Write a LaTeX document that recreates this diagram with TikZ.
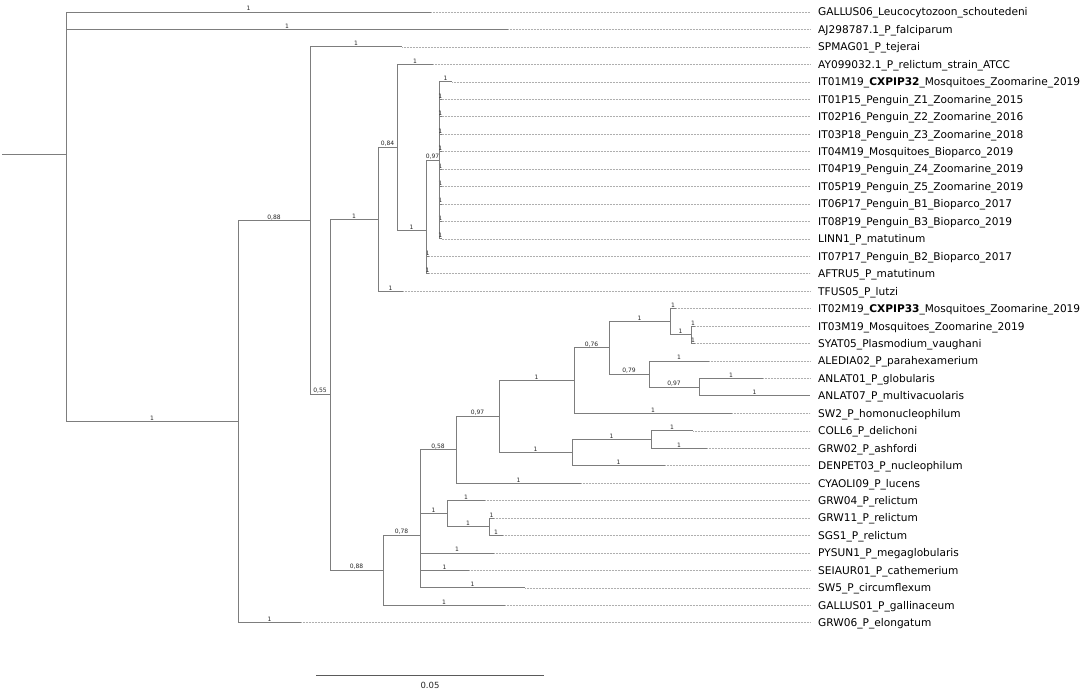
\documentclass[tikz,border=0pt]{standalone}
\usepackage{fontspec}
\setmainfont{DejaVu Sans}
\definecolor{brc}{RGB}{125,125,125}
\definecolor{dotc}{RGB}{175,175,175}
\definecolor{sbc}{RGB}{90,90,90}
\begin{document}
\begin{tikzpicture}[x=1pt,y=-1pt,
 br/.style={draw=brc,line width=0.9pt},
 dots/.style={draw=dotc,line width=0.6pt,dash pattern=on 0.6pt off 0.9pt},
 sup/.style={font=\fontsize{6}{7}\selectfont,inner sep=0.6pt,above,text=black!85,pos=0.75},
 leaf/.style={font=\fontsize{10.6}{12.5}\selectfont,anchor=base west,inner sep=0pt,yshift=-3.9pt},
 scalebar/.style={draw=sbc,line width=1.3pt}]
\useasboundingbox (0,0) rectangle (1084,693);
% internal nodes
\coordinate (stub) at (2,154.4);
\coordinate (nR) at (66,154.4);
\coordinate (nA) at (238,421.8);
\coordinate (nB) at (310,220.8);
\coordinate (nC) at (330,394.7);
\coordinate (nD) at (378,219.2);
\coordinate (nF) at (397,147.2);
\coordinate (nG) at (426,230.1);
\coordinate (nH) at (439,160.3);
\coordinate (nE) at (383,570.1);
\coordinate (nI) at (420,535);
\coordinate (nJ) at (456,449.9);
\coordinate (nK) at (447,513.7);
\coordinate (nL) at (489,526.8);
\coordinate (nM) at (499,416.6);
\coordinate (nN) at (574,380.6);
\coordinate (nO) at (572,452.6);
\coordinate (nP) at (609,347.9);
\coordinate (nQ) at (670,321.7);
\coordinate (nS) at (691,334.8);
\coordinate (nT) at (649,374.1);
\coordinate (nU) at (699,387.2);
\coordinate (nV) at (651,439.5);
\coordinate (dotend) at (810,0);
% leaves
\foreach \i/\xe/\txt in {
 0/431/GALLUS06\_Leucocytozoon\_schoutedeni,
 1/508/AJ298787.1\_P\_falciparum,
 2/402/SPMAG01\_P\_tejerai,
 3/433/AY099032.1\_P\_relictum\_strain\_ATCC,
 4/452/IT01M19\_\textbf{CXPIP32}\_Mosquitoes\_Zoomarine\_2019,
 5/441.5/IT01P15\_Penguin\_Z1\_Zoomarine\_2015,
 6/441.5/IT02P16\_Penguin\_Z2\_Zoomarine\_2016,
 7/441.5/IT03P18\_Penguin\_Z3\_Zoomarine\_2018,
 8/441.5/IT04M19\_Mosquitoes\_Bioparco\_2019,
 9/441.5/IT04P19\_Penguin\_Z4\_Zoomarine\_2019,
 10/441.5/IT05P19\_Penguin\_Z5\_Zoomarine\_2019,
 11/441.5/IT06P17\_Penguin\_B1\_Bioparco\_2017,
 12/441.5/IT08P19\_Penguin\_B3\_Bioparco\_2019,
 13/441.5/LINN1\_P\_matutinum,
 14/429/IT07P17\_Penguin\_B2\_Bioparco\_2017,
 15/429/AFTRU5\_P\_matutinum,
 16/403/TFUS05\_P\_lutzi,
 17/676/IT02M19\_\textbf{CXPIP33}\_Mosquitoes\_Zoomarine\_2019,
 18/695/IT03M19\_Mosquitoes\_Zoomarine\_2019,
 19/695/SYAT05\_Plasmodium\_vaughani,
 20/709/ALEDIA02\_P\_parahexamerium,
 21/763/ANLAT01\_P\_globularis,
 22/810/ANLAT07\_P\_multivacuolaris,
 23/732/SW2\_P\_homonucleophilum,
 24/693/COLL6\_P\_delichoni,
 25/707/GRW02\_P\_ashfordi,
 26/665/DENPET03\_P\_nucleophilum,
 27/581/CYAOLI09\_P\_lucens,
 28/485/GRW04\_P\_relictum,
 29/494/GRW11\_P\_relictum,
 30/503/SGS1\_P\_relictum,
 31/494/PYSUN1\_P\_megaglobularis,
 32/469/SEIAUR01\_P\_cathemerium,
 33/525/SW5\_P\_circumflexum,
 34/505/GALLUS01\_P\_gallinaceum,
 35/301/GRW06\_P\_elongatum}{
 \coordinate (e\i) at (\xe,{12+17.45*\i});
 \node[leaf] (l\i) at (818,{12+17.45*\i}) {\txt};
 \draw[dots] (e\i) -- (e\i -| dotend);
}
% branches
\draw[br] (stub) -- (nR);
\draw[br] (nR) |- node[sup]{1} (e0);
\draw[br] (nR) |- node[sup]{1} (e1);
\draw[br] (nR) |- node[sup]{1} (nA);
\draw[br] (nA) |- node[sup]{0,88} (nB);
\draw[br] (nA) |- node[sup]{1} (e35);
\draw[br] (nB) |- node[sup]{1} (e2);
\draw[br] (nB) |- node[sup]{0,55} (nC);
\draw[br] (nC) |- node[sup]{1} (nD);
\draw[br] (nC) |- node[sup]{0,88} (nE);
\draw[br] (nD) |- node[sup]{0,84} (nF);
\draw[br] (nD) |- node[sup]{1} (e16);
\draw[br] (nF) |- node[sup]{1} (e3);
\draw[br] (nF) |- node[sup]{1} (nG);
\draw[br] (nG) |- node[sup]{0,97} (nH);
\draw[br] (nG) |- node[sup]{1} (e14);
\draw[br] (nG) |- node[sup]{1} (e15);
\foreach \i in {4,...,13} {\draw[br] (nH) |- node[sup]{1} (e\i);}
\draw[br] (nE) |- node[sup]{0,78} (nI);
\draw[br] (nE) |- node[sup]{1} (e34);
\draw[br] (nI) |- node[sup]{0,58} (nJ);
\draw[br] (nI) |- node[sup]{1} (nK);
\draw[br] (nI) |- node[sup]{1} (e31);
\draw[br] (nI) |- node[sup]{1} (e32);
\draw[br] (nI) |- node[sup]{1} (e33);
\draw[br] (nK) |- node[sup]{1} (e28);
\draw[br] (nK) |- node[sup]{1} (nL);
\draw[br] (nL) |- node[sup]{1} (e29);
\draw[br] (nL) |- node[sup]{1} (e30);
\draw[br] (nJ) |- node[sup]{0,97} (nM);
\draw[br] (nJ) |- node[sup]{1} (e27);
\draw[br] (nM) |- node[sup]{1} (nN);
\draw[br] (nM) |- node[sup]{1} (nO);
\draw[br] (nN) |- node[sup]{0,76} (nP);
\draw[br] (nN) |- node[sup]{1} (e23);
\draw[br] (nP) |- node[sup]{1} (nQ);
\draw[br] (nP) |- node[sup]{0,79} (nT);
\draw[br] (nQ) |- node[sup]{1} (e17);
\draw[br] (nQ) |- node[sup]{1} (nS);
\draw[br] (nS) |- node[sup]{1} (e18);
\draw[br] (nS) |- node[sup]{1} (e19);
\draw[br] (nT) |- node[sup]{1} (e20);
\draw[br] (nT) |- node[sup]{0,97} (nU);
\draw[br] (nU) |- node[sup]{1} (e21);
\draw[br] (nU) |- node[sup]{1} (e22);
\draw[br] (nO) |- node[sup]{1} (nV);
\draw[br] (nO) |- node[sup]{1} (e26);
\draw[br] (nV) |- node[sup]{1} (e24);
\draw[br] (nV) |- node[sup]{1} (e25);
% scale bar
\coordinate (sb1) at (316,675.7);
\coordinate (sb2) at (544,675.7);
\draw[scalebar] (sb1) -- node[below=5.5pt,font=\fontsize{8.5}{10}\selectfont,text=black!85,inner sep=0pt] (sbl) {0.05} (sb2);
\end{tikzpicture}
\end{document}
